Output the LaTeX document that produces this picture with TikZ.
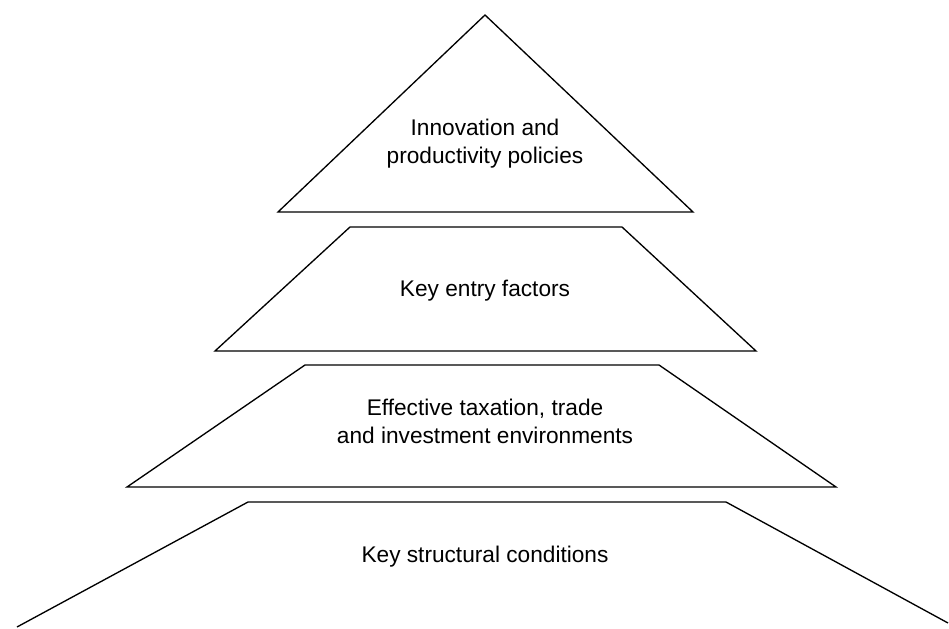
\documentclass[tikz,border=0pt]{standalone}
\usepackage{fontspec}
\setmainfont{Liberation Sans}
\begin{document}
\begin{tikzpicture}[x=0.75pt, y=-0.75pt,
  tier/.style={draw=black, line width=1pt, line join=miter},
  label/.style={anchor=base, align=center, font=\fontsize{17}{20.3}\selectfont, inner sep=0pt}]
  \useasboundingbox (0,0) rectangle (949,628);

  % top triangle
  \draw[tier] (485,15) -- (693,212) -- (278,212) -- cycle;
  % second tier
  \draw[tier] (350,227) -- (622,227) -- (756,351) -- (215,351) -- cycle;
  % third tier
  \draw[tier] (305,365) -- (659,365) -- (836,487) -- (127,487) -- cycle;
  % base tier, running off the bottom edge
  \draw[tier] (17,627) -- (248,502) -- (726,502) -- (948,623);

  % labels (base anchor sits on the last line of a two-line label)
  \node[label] (t1) at (485,163) {Innovation and\\productivity policies};
  \node[label] (t2) at (485,296) {Key entry factors};
  \node[label] (t3) at (485,443) {Effective taxation, trade\\and investment environments};
  \node[label] (t4) at (485,562) {Key structural conditions};
\end{tikzpicture}
\end{document}
